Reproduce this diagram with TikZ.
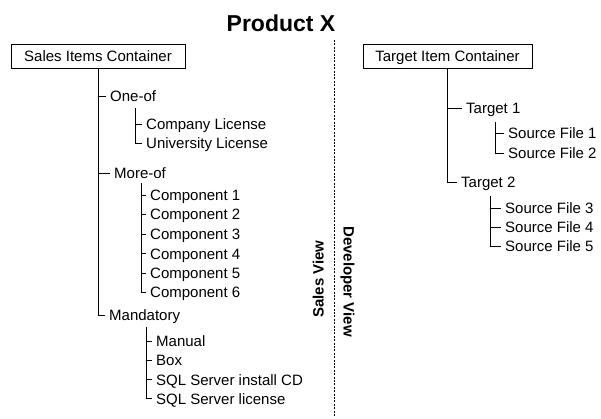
\documentclass[tikz,border=0pt]{standalone}
\usepackage{fontspec}
\setmainfont{Liberation Sans}
\begin{document}
\begin{tikzpicture}[x=1pt,y=-1pt,
  lbl/.style={font=\fontsize{15}{17}\selectfont, text height=11pt, text depth=0pt, inner ysep=0pt, inner xsep=4pt, anchor=west},
  boxnode/.style={draw, line width=0.9pt, font=\fontsize{15}{17}\selectfont, text height=11pt, text depth=0pt, inner sep=0pt, minimum height=24pt},
  tree/.style={line width=0.9pt},
  vlabel/.style={font=\bfseries\fontsize{15}{17}\selectfont, text height=11pt, text depth=0pt, inner sep=0pt},
  sep/.style={line width=0.8pt, dash pattern=on 2pt off 1.4pt}]
\useasboundingbox (0,0) rectangle (601,419);
% title
\node[font=\bfseries\fontsize{23}{27}\selectfont, anchor=base, inner sep=0pt] (title) at (281,32) {Product X};
% separator
\coordinate (dtop) at (334,40);
\coordinate (dbot) at (334,416);
\draw[sep] (dtop) -- (dbot);
\node[vlabel, rotate=90] (salesview) at (318,279) {Sales View};
\node[vlabel, rotate=-90] (devview) at (349,281.5) {Developer View};
% sales tree
\node[boxnode, minimum width=174pt] (sales) at (98,56.5) {Sales Items Container};
\node[lbl] (oneof) at (106,96) {One-of};
\node[lbl] (cl) at (142,124) {Company License};
\node[lbl] (ul) at (142,143) {University License};
\node[lbl] (moreof) at (110,173) {More-of};
\node[lbl] (c1) at (146,195) {Component 1};
\node[lbl] (c2) at (146,214.5) {Component 2};
\node[lbl] (c3) at (146,234) {Component 3};
\node[lbl] (c4) at (146,253.5) {Component 4};
\node[lbl] (c5) at (146,273) {Component 5};
\node[lbl] (c6) at (146,292) {Component 6};
\node[lbl] (mand) at (105,315) {Mandatory};
\node[lbl] (manual) at (152,341) {Manual};
\node[lbl] (box) at (152,360) {Box};
\node[lbl] (sqlcd) at (152,379.5) {SQL Server install CD};
\node[lbl] (sqllic) at (152,398.5) {SQL Server license};
\draw[tree] (sales.south) |- (mand.west);
\draw[tree] (sales.south |- oneof.west) -- (oneof.west);
\draw[tree] (sales.south |- moreof.west) -- (moreof.west);
\coordinate (v1) at (135,108);
\draw[tree] (v1) |- (ul.west);
\draw[tree] (v1 |- cl.west) -- (cl.west);
\coordinate (v2) at (141,183);
\draw[tree] (v2) |- (c6.west);
\foreach \n in {c1,c2,c3,c4,c5} \draw[tree] (v2 |- \n.west) -- (\n.west);
\coordinate (v3) at (146,327);
\draw[tree] (v3) |- (sqllic.west);
\foreach \n in {manual,box,sqlcd} \draw[tree] (v3 |- \n.west) -- (\n.west);
% target tree
\node[boxnode, minimum width=169pt] (target) at (447.5,56.5) {Target Item Container};
\node[lbl] (t1) at (462,108.5) {Target 1};
\node[lbl] (sf1) at (504,133.5) {Source File 1};
\node[lbl] (sf2) at (504,153) {Source File 2};
\node[lbl] (t2) at (457,182.5) {Target 2};
\node[lbl] (sf3) at (501,208) {Source File 3};
\node[lbl] (sf4) at (501,227) {Source File 4};
\node[lbl] (sf5) at (501,246) {Source File 5};
\draw[tree] (target.south) |- (t2.west);
\draw[tree] (target.south |- t1.west) -- (t1.west);
\coordinate (w1) at (495,122);
\draw[tree] (w1) |- (sf2.west);
\draw[tree] (w1 |- sf1.west) -- (sf1.west);
\coordinate (w2) at (490,196);
\draw[tree] (w2) |- (sf5.west);
\foreach \n in {sf3,sf4} \draw[tree] (w2 |- \n.west) -- (\n.west);
\end{tikzpicture}
\end{document}
